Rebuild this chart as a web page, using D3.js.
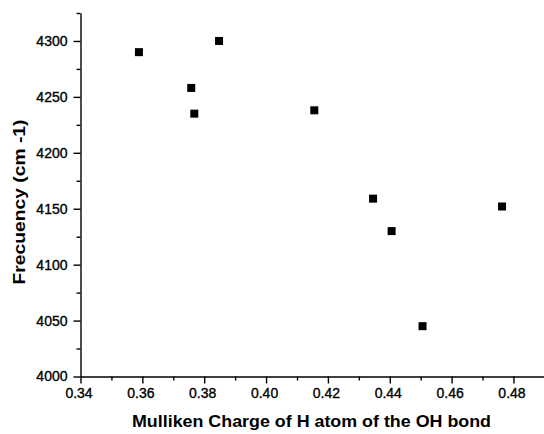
<!DOCTYPE html>
<html>
<head>
<meta charset="utf-8">
<script src="https://cdn.jsdelivr.net/npm/d3@7"></script>
<style>
  html, body { margin: 0; padding: 0; background: #fff; }
  svg { display: block; }
  text { font-family: "Liberation Sans", Arial, sans-serif; fill: #000; }
</style>
</head>
<body>
<svg id="chart" width="544" height="434"></svg>
<script>
const charge = [0.3589, 0.3758, 0.3768, 0.3848, 0.4156, 0.4346, 0.4406, 0.4506, 0.4763];
const frequency = [4290, 4258, 4235, 4300, 4238, 4159, 4130, 4045, 4152];
const xMajorTicks = [0.34, 0.36, 0.38, 0.40, 0.42, 0.44, 0.46, 0.48];
const xMinorTicks = [0.35, 0.37, 0.39, 0.41, 0.43, 0.45, 0.47, 0.49];
const yMajorTicks = [4000, 4050, 4100, 4150, 4200, 4250, 4300];
const yMinorTicks = [4025, 4075, 4125, 4175, 4225, 4275, 4325];
const xTitle = "Mulliken Charge of H atom of the OH bond";
const yTitle = "Frecuency (cm -1)";

const svg = d3.select("#chart");
const x = d3.scaleLinear().domain([0.34, 0.49]).range([80.5, 544.4]);
const y = d3.scaleLinear().domain([4000, 4325]).range([376.5, 13]);
const x0 = 80.5, y0 = 376.5;

// minor ticks
svg.append("g").attr("transform", `translate(0,${y0})`)
  .call(d3.axisBottom(x).tickValues(xMinorTicks).tickSize(4).tickSizeOuter(0).tickFormat(""))
  .call(g => g.select(".domain").remove());
svg.append("g").attr("transform", `translate(${x0},0)`)
  .call(d3.axisLeft(y).tickValues(yMinorTicks).tickSize(4).tickSizeOuter(0).tickFormat(""))
  .call(g => g.select(".domain").remove());

// major axes
const xAxis = svg.append("g").attr("transform", `translate(0,${y0})`)
  .call(d3.axisBottom(x).tickValues(xMajorTicks).tickSize(7).tickSizeOuter(0).tickPadding(5).tickFormat(d3.format(".2f")));
const yAxis = svg.append("g").attr("transform", `translate(${x0},0)`)
  .call(d3.axisLeft(y).tickValues(yMajorTicks).tickSize(7).tickSizeOuter(0).tickPadding(6).tickFormat(d3.format("d")));

svg.selectAll(".tick text")
  .attr("font-size", 14)
  .attr("font-family", "Liberation Sans, Arial, sans-serif")
  .attr("stroke", "#000").attr("stroke-width", 0.35);
xAxis.selectAll(".tick text").attr("dx", -2);
svg.selectAll(".domain, .tick line").attr("stroke", "#000").attr("stroke-width", 1.4);

// points
const s = 8;
svg.append("g").selectAll("rect")
  .data(charge.map((c, i) => ({c, f: frequency[i]})))
  .join("rect")
  .attr("x", d => x(d.c) - s / 2)
  .attr("y", d => y(d.f) - s / 2)
  .attr("width", s).attr("height", s)
  .attr("fill", "#000");

// titles
svg.append("text")
  .attr("x", 311.5).attr("y", 427)
  .attr("text-anchor", "middle")
  .attr("font-size", 16).attr("font-weight", "bold")
  .attr("textLength", 359).attr("lengthAdjust", "spacingAndGlyphs")
  .text(xTitle);

svg.append("text")
  .attr("transform", "translate(25,202) rotate(-90)")
  .attr("text-anchor", "middle")
  .attr("font-size", 16).attr("font-weight", "bold")
  .attr("textLength", 165).attr("lengthAdjust", "spacingAndGlyphs")
  .text(yTitle);
</script>
</body>
</html>
